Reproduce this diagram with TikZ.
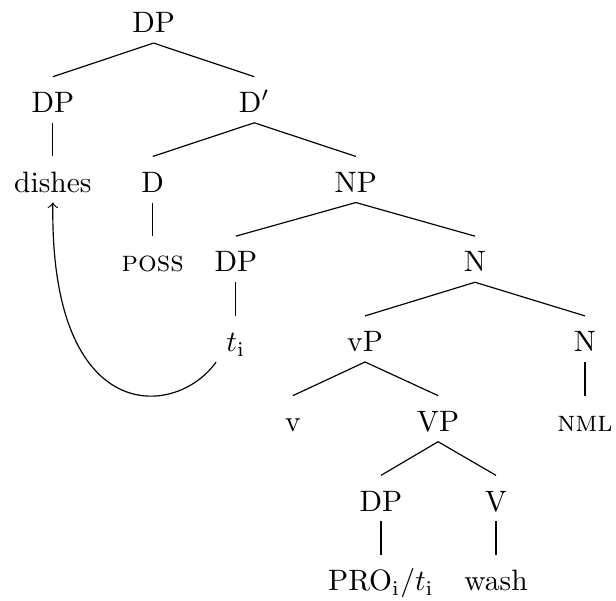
\documentclass[tikz,border=0pt]{standalone}
\usepackage{amsmath}
\usepackage{tikz}
\usetikzlibrary{calc}
\tikzset{cat/.style={
    anchor=base, inner sep=3.3pt, text height=2ex, text depth=0pt}}

\begin{document}
\begin{tikzpicture}
\useasboundingbox (0,0) rectangle (7.34,-7.15);

  % niveaux
  \node[cat] (dp) at (1.83,-0.39) {DP};
  \node[cat] (dpa) at (0.63,-1.34) {DP};
  \node[cat] (dbar) at (3.03,-1.34) {D$'$};
  \node[cat] (dishes) at (0.63,-2.29) {dishes};
  \node[cat] (d) at (1.82,-2.29) {D};
  \node[cat] (np) at (4.24,-2.29) {NP};
  \node[cat] (poss) at (1.82,-3.24) {\textsc{poss}};
  \node[cat] (dpb) at (2.81,-3.24) {DP};
  \node[cat] (n) at (5.66,-3.24) {N};
  \node[cat] (ti) at (2.81,-4.19) {$t_{\mathrm{i}}$};
  \node[cat] (vsp) at (4.35,-4.19) {vP};
  \node[cat] (nb) at (6.97,-4.19) {N};
  \node[cat] (v) at (3.49,-5.14) {v};
  \node[cat] (vbp) at (5.22,-5.14) {VP};
  \node[cat] (nml) at (6.97,-5.14) {\textsc{nml}};
  \node[cat] (dpc) at (4.54,-6.09) {DP};
  \node[cat] (vb) at (5.91,-6.09) {V};
  \node[cat] (pro) at (4.54,-7.04) {PRO$_{\mathrm{i}}$/$t_{\mathrm{i}}$};
  \node[cat] (wash) at (5.91,-7.04) {wash};

  % branches
\foreach \a/\b in {dp/dpa,dp/dbar,dpa/dishes,dbar/d,dbar/np,d/poss,np/dpb,np/n,
  dpb/ti,n/vsp,n/nb,vsp/v,vsp/vbp,nb/nml,vbp/dpc,vbp/vb,dpc/pro,vb/wash}
{
  \draw (\a.south) -- (\b.north);
}

  % mouvement
  \draw[->] (ti.south west) .. controls +(-0.48,-0.68) and +(-0.04,-2.68) .. (dishes.south);
\end{tikzpicture}
\end{document}
